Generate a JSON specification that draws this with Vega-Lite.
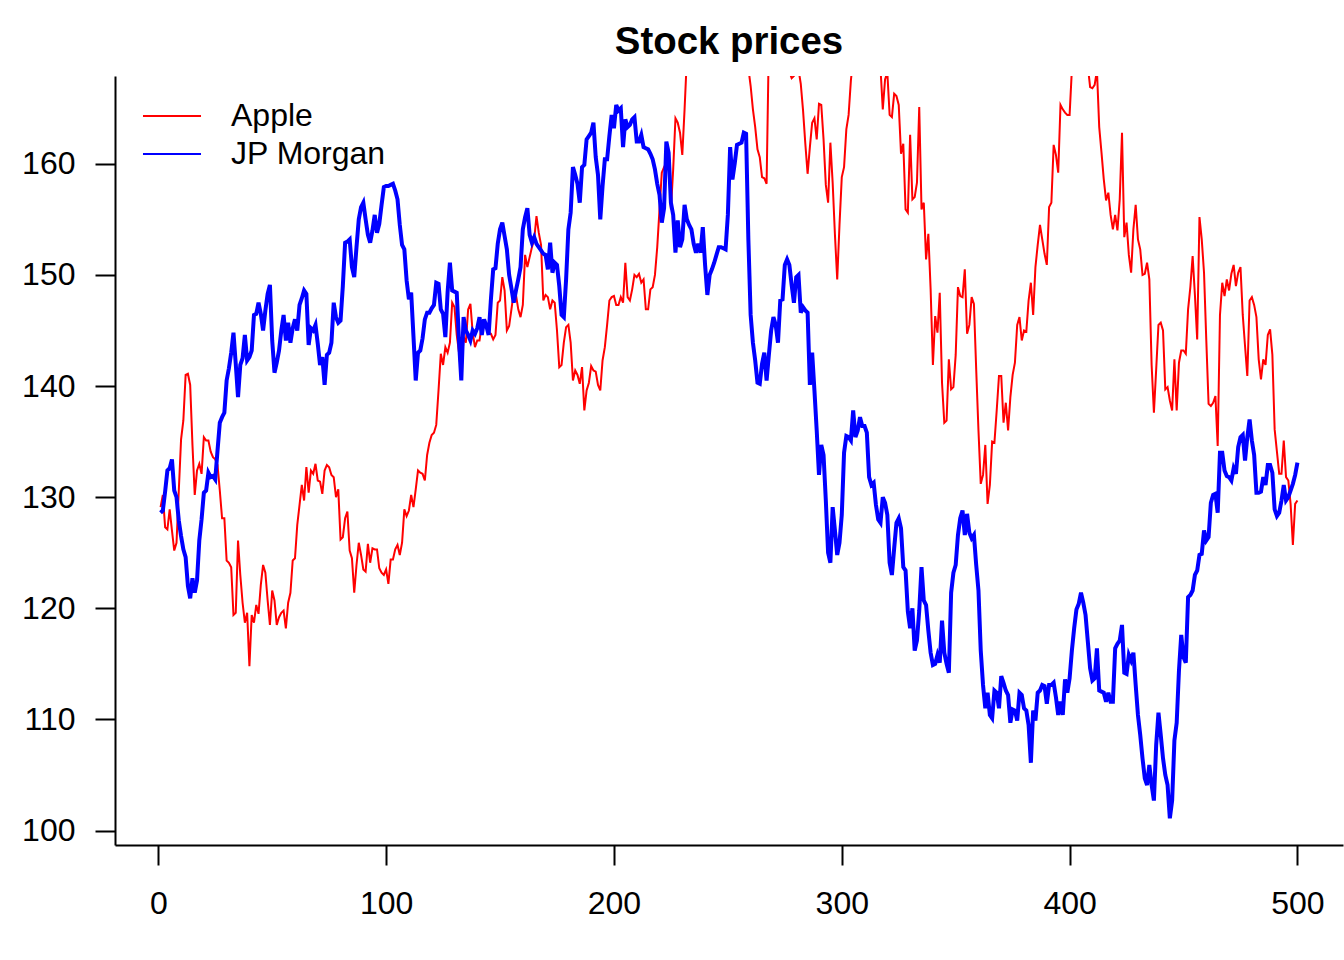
{
  "$schema": "https://vega.github.io/schema/vega-lite/v6.json",
  "description": "Stock prices: Apple and JP Morgan over 500 trading days",
  "width": 1228,
  "height": 769,
  "autosize": {"type": "none"},
  "padding": {"left": 115, "top": 76, "right": 1, "bottom": 115},
  "background": "white",
  "config": {"view": {"stroke": null}, "font": "Liberation Sans"},
  "title": {
    "text": "Stock prices",
    "font": "Liberation Sans",
    "fontSize": 38.4,
    "fontWeight": "bold",
    "color": "black",
    "anchor": "middle",
    "frame": "group",
    "baseline": "alphabetic",
    "offset": -16
  },
  "data": {"values": [
{"t":1,"Apple":129.1,"JP Morgan":128.6},{"t":2,"Apple":130.2,"JP Morgan":128.8},{"t":3,"Apple":127.3,"JP Morgan":130.5},{"t":4,"Apple":127.1,"JP Morgan":132.4},{"t":5,"Apple":128.9,"JP Morgan":132.6},
{"t":6,"Apple":127.0,"JP Morgan":133.4},{"t":7,"Apple":125.2,"JP Morgan":130.6},{"t":8,"Apple":125.9,"JP Morgan":130.0},{"t":9,"Apple":130.6,"JP Morgan":127.9},{"t":10,"Apple":135.2,"JP Morgan":126.5},
{"t":11,"Apple":136.9,"JP Morgan":125.3},{"t":12,"Apple":141.0,"JP Morgan":124.6},{"t":13,"Apple":141.1,"JP Morgan":122.0},{"t":14,"Apple":140.1,"JP Morgan":120.9},{"t":15,"Apple":134.7,"JP Morgan":122.7},
{"t":16,"Apple":130.2,"JP Morgan":121.4},{"t":17,"Apple":132.4,"JP Morgan":122.5},{"t":18,"Apple":133.0,"JP Morgan":126.1},{"t":19,"Apple":132.1,"JP Morgan":128.0},{"t":20,"Apple":135.4,"JP Morgan":130.4},
{"t":21,"Apple":135.1,"JP Morgan":130.6},{"t":22,"Apple":135.1,"JP Morgan":132.2},{"t":23,"Apple":134.1,"JP Morgan":131.8},{"t":24,"Apple":133.6,"JP Morgan":131.9},{"t":25,"Apple":133.4,"JP Morgan":131.6},
{"t":26,"Apple":132.9,"JP Morgan":134.2},{"t":27,"Apple":130.6,"JP Morgan":136.7},{"t":28,"Apple":128.1,"JP Morgan":137.2},{"t":29,"Apple":128.1,"JP Morgan":137.6},{"t":30,"Apple":124.3,"JP Morgan":140.5},
{"t":31,"Apple":124.1,"JP Morgan":141.6},{"t":32,"Apple":123.7,"JP Morgan":143.0},{"t":33,"Apple":119.4,"JP Morgan":144.8},{"t":34,"Apple":119.6,"JP Morgan":142.0},{"t":35,"Apple":126.1,"JP Morgan":139.0},
{"t":36,"Apple":123.0,"JP Morgan":141.9},{"t":37,"Apple":120.5,"JP Morgan":142.5},{"t":38,"Apple":118.7,"JP Morgan":144.6},{"t":39,"Apple":119.6,"JP Morgan":142.3},{"t":40,"Apple":114.8,"JP Morgan":142.6},
{"t":41,"Apple":119.4,"JP Morgan":143.2},{"t":42,"Apple":118.7,"JP Morgan":146.4},{"t":43,"Apple":120.3,"JP Morgan":146.5},{"t":44,"Apple":119.5,"JP Morgan":147.5},{"t":45,"Apple":122.1,"JP Morgan":146.5},
{"t":46,"Apple":123.9,"JP Morgan":145.0},{"t":47,"Apple":123.2,"JP Morgan":146.8},{"t":48,"Apple":120.7,"JP Morgan":148.3},{"t":49,"Apple":118.5,"JP Morgan":149.1},{"t":50,"Apple":121.6,"JP Morgan":144.1},
{"t":51,"Apple":120.7,"JP Morgan":141.2},{"t":52,"Apple":118.5,"JP Morgan":142.1},{"t":53,"Apple":119.2,"JP Morgan":143.2},{"t":54,"Apple":119.6,"JP Morgan":145.0},{"t":55,"Apple":119.8,"JP Morgan":146.4},
{"t":56,"Apple":118.2,"JP Morgan":144.1},{"t":57,"Apple":120.5,"JP Morgan":145.7},{"t":58,"Apple":121.4,"JP Morgan":143.9},{"t":59,"Apple":124.3,"JP Morgan":145.2},{"t":60,"Apple":124.5,"JP Morgan":146.0},
{"t":61,"Apple":127.5,"JP Morgan":145.0},{"t":62,"Apple":129.3,"JP Morgan":147.3},{"t":63,"Apple":131.1,"JP Morgan":147.9},{"t":64,"Apple":129.7,"JP Morgan":148.6},{"t":65,"Apple":132.7,"JP Morgan":148.3},
{"t":66,"Apple":130.4,"JP Morgan":143.7},{"t":67,"Apple":132.4,"JP Morgan":145.2},{"t":68,"Apple":132.1,"JP Morgan":145.0},{"t":69,"Apple":133.0,"JP Morgan":145.5},{"t":70,"Apple":131.5,"JP Morgan":143.8},
{"t":71,"Apple":131.4,"JP Morgan":141.9},{"t":72,"Apple":130.3,"JP Morgan":142.6},{"t":73,"Apple":132.4,"JP Morgan":140.1},{"t":74,"Apple":132.9,"JP Morgan":142.8},{"t":75,"Apple":132.7,"JP Morgan":143.0},
{"t":76,"Apple":132.0,"JP Morgan":143.9},{"t":77,"Apple":131.8,"JP Morgan":147.5},{"t":78,"Apple":130.0,"JP Morgan":146.2},{"t":79,"Apple":130.7,"JP Morgan":145.7},{"t":80,"Apple":126.2,"JP Morgan":145.9},
{"t":81,"Apple":126.4,"JP Morgan":149.0},{"t":82,"Apple":128.1,"JP Morgan":152.9},{"t":83,"Apple":128.7,"JP Morgan":153.0},{"t":84,"Apple":125.2,"JP Morgan":153.2},{"t":85,"Apple":124.5,"JP Morgan":150.7},
{"t":86,"Apple":121.4,"JP Morgan":149.8},{"t":87,"Apple":123.9,"JP Morgan":152.5},{"t":88,"Apple":125.9,"JP Morgan":155.0},{"t":89,"Apple":124.8,"JP Morgan":156.1},{"t":90,"Apple":123.5,"JP Morgan":156.5},
{"t":91,"Apple":123.3,"JP Morgan":155.0},{"t":92,"Apple":125.8,"JP Morgan":153.6},{"t":93,"Apple":124.1,"JP Morgan":152.9},{"t":94,"Apple":125.4,"JP Morgan":154.0},{"t":95,"Apple":125.3,"JP Morgan":155.4},
{"t":96,"Apple":125.3,"JP Morgan":153.8},{"t":97,"Apple":123.6,"JP Morgan":154.6},{"t":98,"Apple":123.2,"JP Morgan":156.3},{"t":99,"Apple":123.0,"JP Morgan":157.9},{"t":100,"Apple":123.5,"JP Morgan":158.0},
{"t":101,"Apple":122.2,"JP Morgan":158.0},{"t":102,"Apple":124.4,"JP Morgan":158.1},{"t":103,"Apple":124.4,"JP Morgan":158.2},{"t":104,"Apple":125.3,"JP Morgan":157.6},{"t":105,"Apple":125.7,"JP Morgan":156.8},
{"t":106,"Apple":124.8,"JP Morgan":154.5},{"t":107,"Apple":125.9,"JP Morgan":152.7},{"t":108,"Apple":128.9,"JP Morgan":152.3},{"t":109,"Apple":128.3,"JP Morgan":149.5},{"t":110,"Apple":128.8,"JP Morgan":147.8},
{"t":111,"Apple":130.2,"JP Morgan":148.4},{"t":112,"Apple":129.1,"JP Morgan":144.5},{"t":113,"Apple":130.7,"JP Morgan":140.5},{"t":114,"Apple":132.4,"JP Morgan":143.0},{"t":115,"Apple":132.2,"JP Morgan":143.2},
{"t":116,"Apple":132.1,"JP Morgan":144.3},{"t":117,"Apple":131.5,"JP Morgan":146.0},{"t":118,"Apple":133.8,"JP Morgan":146.6},{"t":119,"Apple":134.9,"JP Morgan":146.6},{"t":120,"Apple":135.6,"JP Morgan":147.0},
{"t":121,"Apple":135.8,"JP Morgan":147.3},{"t":122,"Apple":136.5,"JP Morgan":149.3},{"t":123,"Apple":139.6,"JP Morgan":149.2},{"t":124,"Apple":142.9,"JP Morgan":146.9},{"t":125,"Apple":141.9,"JP Morgan":146.5},
{"t":126,"Apple":143.5,"JP Morgan":144.4},{"t":127,"Apple":143.0,"JP Morgan":148.5},{"t":128,"Apple":143.9,"JP Morgan":151.1},{"t":129,"Apple":147.5,"JP Morgan":148.6},{"t":130,"Apple":147.1,"JP Morgan":148.5},
{"t":131,"Apple":144.6,"JP Morgan":148.4},{"t":132,"Apple":143.0,"JP Morgan":144.0},{"t":133,"Apple":140.9,"JP Morgan":140.5},{"t":134,"Apple":144.4,"JP Morgan":146.2},{"t":135,"Apple":143.9,"JP Morgan":145.0},
{"t":136,"Apple":146.9,"JP Morgan":144.6},{"t":137,"Apple":147.4,"JP Morgan":144.1},{"t":138,"Apple":144.8,"JP Morgan":145.0},{"t":139,"Apple":143.5,"JP Morgan":144.7},{"t":140,"Apple":144.1,"JP Morgan":145.2},
{"t":141,"Apple":144.1,"JP Morgan":146.2},{"t":142,"Apple":145.5,"JP Morgan":144.6},{"t":143,"Apple":145.4,"JP Morgan":146.0},{"t":144,"Apple":145.3,"JP Morgan":145.4},{"t":145,"Apple":144.8,"JP Morgan":144.6},
{"t":146,"Apple":144.7,"JP Morgan":147.8},{"t":147,"Apple":144.2,"JP Morgan":150.5},{"t":148,"Apple":144.6,"JP Morgan":150.6},{"t":149,"Apple":147.5,"JP Morgan":152.8},{"t":150,"Apple":147.7,"JP Morgan":154.1},
{"t":151,"Apple":149.8,"JP Morgan":154.7},{"t":152,"Apple":148.6,"JP Morgan":153.5},{"t":153,"Apple":145.0,"JP Morgan":152.3},{"t":154,"Apple":145.4,"JP Morgan":150.0},{"t":155,"Apple":146.9,"JP Morgan":148.8},
{"t":156,"Apple":148.4,"JP Morgan":147.5},{"t":157,"Apple":148.2,"JP Morgan":148.6},{"t":158,"Apple":146.9,"JP Morgan":149.6},{"t":159,"Apple":146.2,"JP Morgan":150.7},{"t":160,"Apple":147.3,"JP Morgan":154.1},
{"t":161,"Apple":151.8,"JP Morgan":155.2},{"t":162,"Apple":150.7,"JP Morgan":156.0},{"t":163,"Apple":151.6,"JP Morgan":153.6},{"t":164,"Apple":152.5,"JP Morgan":152.9},{"t":165,"Apple":153.2,"JP Morgan":153.4},
{"t":166,"Apple":155.3,"JP Morgan":152.8},{"t":167,"Apple":153.8,"JP Morgan":152.5},{"t":168,"Apple":152.7,"JP Morgan":152.2},{"t":169,"Apple":147.7,"JP Morgan":151.9},{"t":170,"Apple":148.2,"JP Morgan":151.8},
{"t":171,"Apple":148.0,"JP Morgan":150.5},{"t":172,"Apple":146.9,"JP Morgan":152.9},{"t":173,"Apple":147.7,"JP Morgan":150.2},{"t":174,"Apple":147.5,"JP Morgan":151.1},{"t":175,"Apple":145.0,"JP Morgan":150.9},
{"t":176,"Apple":141.7,"JP Morgan":149.0},{"t":177,"Apple":141.9,"JP Morgan":146.4},{"t":178,"Apple":143.9,"JP Morgan":146.2},{"t":179,"Apple":145.3,"JP Morgan":149.6},{"t":180,"Apple":145.5,"JP Morgan":154.1},
{"t":181,"Apple":143.9,"JP Morgan":155.6},{"t":182,"Apple":140.5,"JP Morgan":159.7},{"t":183,"Apple":141.4,"JP Morgan":159.0},{"t":184,"Apple":141.0,"JP Morgan":158.2},{"t":185,"Apple":140.2,"JP Morgan":156.5},
{"t":186,"Apple":141.7,"JP Morgan":159.7},{"t":187,"Apple":137.8,"JP Morgan":159.9},{"t":188,"Apple":139.6,"JP Morgan":162.2},{"t":189,"Apple":140.3,"JP Morgan":162.5},{"t":190,"Apple":141.8,"JP Morgan":162.8},
{"t":191,"Apple":141.4,"JP Morgan":163.7},{"t":192,"Apple":141.3,"JP Morgan":160.6},{"t":193,"Apple":140.1,"JP Morgan":159.0},{"t":194,"Apple":139.6,"JP Morgan":155.0},{"t":195,"Apple":142.3,"JP Morgan":158.0},
{"t":196,"Apple":143.5,"JP Morgan":160.4},{"t":197,"Apple":145.5,"JP Morgan":160.4},{"t":198,"Apple":147.7,"JP Morgan":162.5},{"t":199,"Apple":148.0,"JP Morgan":164.4},{"t":200,"Apple":148.1,"JP Morgan":163.2},
{"t":201,"Apple":147.3,"JP Morgan":165.3},{"t":202,"Apple":147.3,"JP Morgan":164.8},{"t":203,"Apple":148.0,"JP Morgan":165.0},{"t":204,"Apple":147.5,"JP Morgan":161.5},{"t":205,"Apple":151.1,"JP Morgan":164.0},
{"t":206,"Apple":148.0,"JP Morgan":163.3},{"t":207,"Apple":147.7,"JP Morgan":163.5},{"t":208,"Apple":148.7,"JP Morgan":164.0},{"t":209,"Apple":150.0,"JP Morgan":164.2},{"t":210,"Apple":149.8,"JP Morgan":162.0},
{"t":211,"Apple":150.1,"JP Morgan":162.0},{"t":212,"Apple":149.3,"JP Morgan":162.6},{"t":213,"Apple":149.6,"JP Morgan":161.5},{"t":214,"Apple":146.9,"JP Morgan":161.4},{"t":215,"Apple":146.9,"JP Morgan":161.3},
{"t":216,"Apple":148.7,"JP Morgan":160.9},{"t":217,"Apple":148.9,"JP Morgan":160.4},{"t":218,"Apple":150.0,"JP Morgan":159.5},{"t":219,"Apple":152.5,"JP Morgan":158.2},{"t":220,"Apple":155.9,"JP Morgan":157.2},
{"t":221,"Apple":159.2,"JP Morgan":154.7},{"t":222,"Apple":159.7,"JP Morgan":156.0},{"t":223,"Apple":160.1,"JP Morgan":162.0},{"t":224,"Apple":160.7,"JP Morgan":161.0},{"t":225,"Apple":155.9,"JP Morgan":156.5},
{"t":226,"Apple":159.5,"JP Morgan":155.4},{"t":227,"Apple":164.1,"JP Morgan":152.0},{"t":228,"Apple":163.7,"JP Morgan":154.9},{"t":229,"Apple":162.8,"JP Morgan":152.5},{"t":230,"Apple":160.8,"JP Morgan":153.2},
{"t":231,"Apple":164.9,"JP Morgan":156.3},{"t":232,"Apple":169.5,"JP Morgan":155.0},{"t":233,"Apple":171.0,"JP Morgan":154.5},{"t":234,"Apple":172.5,"JP Morgan":154.1},{"t":235,"Apple":171.8,"JP Morgan":152.8},
{"t":236,"Apple":173.5,"JP Morgan":152.0},{"t":237,"Apple":175.0,"JP Morgan":152.8},{"t":238,"Apple":174.2,"JP Morgan":152.0},{"t":239,"Apple":176.0,"JP Morgan":154.3},{"t":240,"Apple":177.5,"JP Morgan":150.9},
{"t":241,"Apple":176.8,"JP Morgan":148.2},{"t":242,"Apple":178.0,"JP Morgan":150.0},{"t":243,"Apple":177.2,"JP Morgan":150.5},{"t":244,"Apple":179.0,"JP Morgan":151.1},{"t":245,"Apple":178.1,"JP Morgan":151.8},
{"t":246,"Apple":176.5,"JP Morgan":152.5},{"t":247,"Apple":177.8,"JP Morgan":152.5},{"t":248,"Apple":176.0,"JP Morgan":152.4},{"t":249,"Apple":174.8,"JP Morgan":152.3},{"t":250,"Apple":175.5,"JP Morgan":155.4},
{"t":251,"Apple":173.8,"JP Morgan":161.5},{"t":252,"Apple":172.5,"JP Morgan":158.6},{"t":253,"Apple":173.2,"JP Morgan":160.0},{"t":254,"Apple":171.5,"JP Morgan":161.7},{"t":255,"Apple":170.2,"JP Morgan":161.8},
{"t":256,"Apple":171.0,"JP Morgan":161.9},{"t":257,"Apple":169.5,"JP Morgan":162.8},{"t":258,"Apple":168.8,"JP Morgan":162.7},{"t":259,"Apple":168.6,"JP Morgan":153.2},{"t":260,"Apple":167.0,"JP Morgan":146.4},
{"t":261,"Apple":164.9,"JP Morgan":143.9},{"t":262,"Apple":163.3,"JP Morgan":142.3},{"t":263,"Apple":161.3,"JP Morgan":140.3},{"t":264,"Apple":160.6,"JP Morgan":140.2},{"t":265,"Apple":158.8,"JP Morgan":142.0},
{"t":266,"Apple":158.7,"JP Morgan":143.0},{"t":267,"Apple":158.2,"JP Morgan":140.5},{"t":268,"Apple":171.0,"JP Morgan":142.8},{"t":269,"Apple":173.0,"JP Morgan":145.0},{"t":270,"Apple":172.0,"JP Morgan":146.2},
{"t":271,"Apple":174.5,"JP Morgan":145.5},{"t":272,"Apple":173.8,"JP Morgan":143.9},{"t":273,"Apple":172.5,"JP Morgan":147.7},{"t":274,"Apple":171.0,"JP Morgan":147.8},{"t":275,"Apple":170.3,"JP Morgan":150.9},
{"t":276,"Apple":169.2,"JP Morgan":151.4},{"t":277,"Apple":168.3,"JP Morgan":150.9},{"t":278,"Apple":167.7,"JP Morgan":149.1},{"t":279,"Apple":167.9,"JP Morgan":147.5},{"t":280,"Apple":168.4,"JP Morgan":149.8},
{"t":281,"Apple":168.5,"JP Morgan":150.0},{"t":282,"Apple":167.2,"JP Morgan":146.6},{"t":283,"Apple":164.8,"JP Morgan":147.1},{"t":284,"Apple":161.8,"JP Morgan":146.8},{"t":285,"Apple":159.1,"JP Morgan":146.6},
{"t":286,"Apple":161.5,"JP Morgan":140.1},{"t":287,"Apple":163.7,"JP Morgan":143.0},{"t":288,"Apple":164.1,"JP Morgan":139.6},{"t":289,"Apple":162.2,"JP Morgan":136.0},{"t":290,"Apple":165.4,"JP Morgan":132.0},
{"t":291,"Apple":165.3,"JP Morgan":134.7},{"t":292,"Apple":162.2,"JP Morgan":133.8},{"t":293,"Apple":158.1,"JP Morgan":129.7},{"t":294,"Apple":156.5,"JP Morgan":125.0},{"t":295,"Apple":161.9,"JP Morgan":124.1},
{"t":296,"Apple":158.3,"JP Morgan":129.1},{"t":297,"Apple":153.6,"JP Morgan":127.0},{"t":298,"Apple":149.6,"JP Morgan":124.8},{"t":299,"Apple":154.5,"JP Morgan":125.9},{"t":300,"Apple":158.8,"JP Morgan":128.4},
{"t":301,"Apple":159.7,"JP Morgan":134.0},{"t":302,"Apple":163.1,"JP Morgan":135.5},{"t":303,"Apple":164.4,"JP Morgan":135.4},{"t":304,"Apple":167.5,"JP Morgan":135.1},{"t":305,"Apple":169.5,"JP Morgan":137.8},
{"t":306,"Apple":171.0,"JP Morgan":135.4},{"t":307,"Apple":172.8,"JP Morgan":136.0},{"t":308,"Apple":172.0,"JP Morgan":137.2},{"t":309,"Apple":174.0,"JP Morgan":136.4},{"t":310,"Apple":175.2,"JP Morgan":136.4},
{"t":311,"Apple":174.1,"JP Morgan":135.8},{"t":312,"Apple":173.0,"JP Morgan":131.8},{"t":313,"Apple":171.8,"JP Morgan":131.1},{"t":314,"Apple":172.5,"JP Morgan":131.3},{"t":315,"Apple":170.6,"JP Morgan":129.3},
{"t":316,"Apple":169.4,"JP Morgan":128.0},{"t":317,"Apple":168.6,"JP Morgan":127.7},{"t":318,"Apple":164.9,"JP Morgan":130.0},{"t":319,"Apple":167.6,"JP Morgan":129.5},{"t":320,"Apple":168.2,"JP Morgan":128.4},
{"t":321,"Apple":164.4,"JP Morgan":124.1},{"t":322,"Apple":164.2,"JP Morgan":123.0},{"t":323,"Apple":166.3,"JP Morgan":125.4},{"t":324,"Apple":166.1,"JP Morgan":127.7},{"t":325,"Apple":165.3,"JP Morgan":128.1},
{"t":326,"Apple":160.9,"JP Morgan":127.2},{"t":327,"Apple":161.8,"JP Morgan":123.7},{"t":328,"Apple":155.9,"JP Morgan":123.4},{"t":329,"Apple":155.6,"JP Morgan":119.7},{"t":330,"Apple":162.6,"JP Morgan":118.2},
{"t":331,"Apple":156.8,"JP Morgan":120.0},{"t":332,"Apple":157.0,"JP Morgan":116.2},{"t":333,"Apple":158.3,"JP Morgan":117.1},{"t":334,"Apple":165.1,"JP Morgan":119.8},{"t":335,"Apple":155.9,"JP Morgan":123.7},
{"t":336,"Apple":156.5,"JP Morgan":120.7},{"t":337,"Apple":151.4,"JP Morgan":120.3},{"t":338,"Apple":153.7,"JP Morgan":118.0},{"t":339,"Apple":148.7,"JP Morgan":116.0},{"t":340,"Apple":141.9,"JP Morgan":114.9},
{"t":341,"Apple":146.3,"JP Morgan":115.0},{"t":342,"Apple":144.8,"JP Morgan":115.8},{"t":343,"Apple":148.4,"JP Morgan":115.1},{"t":344,"Apple":140.3,"JP Morgan":118.9},{"t":345,"Apple":136.7,"JP Morgan":116.0},
{"t":346,"Apple":136.9,"JP Morgan":115.0},{"t":347,"Apple":142.4,"JP Morgan":114.2},{"t":348,"Apple":139.7,"JP Morgan":121.4},{"t":349,"Apple":139.9,"JP Morgan":123.2},{"t":350,"Apple":142.8,"JP Morgan":123.9},
{"t":351,"Apple":148.9,"JP Morgan":126.6},{"t":352,"Apple":148.1,"JP Morgan":128.1},{"t":353,"Apple":148.0,"JP Morgan":128.8},{"t":354,"Apple":150.5,"JP Morgan":126.6},{"t":355,"Apple":144.7,"JP Morgan":128.5},
{"t":356,"Apple":145.5,"JP Morgan":126.8},{"t":357,"Apple":148.0,"JP Morgan":126.3},{"t":358,"Apple":147.4,"JP Morgan":126.6},{"t":359,"Apple":141.5,"JP Morgan":123.9},{"t":360,"Apple":136.0,"JP Morgan":121.6},
{"t":361,"Apple":131.2,"JP Morgan":116.2},{"t":362,"Apple":132.0,"JP Morgan":113.1},{"t":363,"Apple":134.7,"JP Morgan":111.0},{"t":364,"Apple":129.4,"JP Morgan":112.4},{"t":365,"Apple":131.1,"JP Morgan":110.4},
{"t":366,"Apple":135.0,"JP Morgan":110.1},{"t":367,"Apple":134.9,"JP Morgan":112.6},{"t":368,"Apple":137.8,"JP Morgan":112.4},{"t":369,"Apple":140.9,"JP Morgan":111.0},{"t":370,"Apple":140.9,"JP Morgan":113.9},
{"t":371,"Apple":136.7,"JP Morgan":113.3},{"t":372,"Apple":138.5,"JP Morgan":112.6},{"t":373,"Apple":136.0,"JP Morgan":112.2},{"t":374,"Apple":139.0,"JP Morgan":109.7},{"t":375,"Apple":141.0,"JP Morgan":110.9},
{"t":376,"Apple":142.1,"JP Morgan":110.8},{"t":377,"Apple":145.5,"JP Morgan":109.9},{"t":378,"Apple":146.2,"JP Morgan":112.4},{"t":379,"Apple":144.1,"JP Morgan":112.2},{"t":380,"Apple":145.0,"JP Morgan":111.0},
{"t":381,"Apple":144.9,"JP Morgan":110.8},{"t":382,"Apple":147.7,"JP Morgan":109.5},{"t":383,"Apple":149.3,"JP Morgan":106.1},{"t":384,"Apple":146.4,"JP Morgan":110.8},{"t":385,"Apple":150.7,"JP Morgan":109.9},
{"t":386,"Apple":152.7,"JP Morgan":112.4},{"t":387,"Apple":154.5,"JP Morgan":112.6},{"t":388,"Apple":153.2,"JP Morgan":113.1},{"t":389,"Apple":151.9,"JP Morgan":113.0},{"t":390,"Apple":150.9,"JP Morgan":111.4},
{"t":391,"Apple":156.1,"JP Morgan":113.1},{"t":392,"Apple":156.5,"JP Morgan":113.1},{"t":393,"Apple":161.7,"JP Morgan":113.3},{"t":394,"Apple":160.8,"JP Morgan":112.0},{"t":395,"Apple":159.2,"JP Morgan":110.4},
{"t":396,"Apple":165.3,"JP Morgan":111.6},{"t":397,"Apple":164.9,"JP Morgan":110.4},{"t":398,"Apple":164.6,"JP Morgan":113.6},{"t":399,"Apple":164.4,"JP Morgan":112.4},{"t":400,"Apple":164.4,"JP Morgan":113.7},
{"t":401,"Apple":168.5,"JP Morgan":116.2},{"t":402,"Apple":170.5,"JP Morgan":118.2},{"t":403,"Apple":171.8,"JP Morgan":119.9},{"t":404,"Apple":171.0,"JP Morgan":120.4},{"t":405,"Apple":172.6,"JP Morgan":121.4},
{"t":406,"Apple":171.2,"JP Morgan":120.5},{"t":407,"Apple":170.0,"JP Morgan":119.4},{"t":408,"Apple":168.8,"JP Morgan":117.0},{"t":409,"Apple":166.9,"JP Morgan":114.6},{"t":410,"Apple":166.8,"JP Morgan":113.5},
{"t":411,"Apple":167.1,"JP Morgan":113.7},{"t":412,"Apple":168.4,"JP Morgan":116.4},{"t":413,"Apple":163.3,"JP Morgan":112.6},{"t":414,"Apple":161.0,"JP Morgan":112.5},{"t":415,"Apple":158.6,"JP Morgan":112.4},
{"t":416,"Apple":156.7,"JP Morgan":111.6},{"t":417,"Apple":157.4,"JP Morgan":112.4},{"t":418,"Apple":155.4,"JP Morgan":111.6},{"t":419,"Apple":154.1,"JP Morgan":111.6},{"t":420,"Apple":155.4,"JP Morgan":116.4},
{"t":421,"Apple":154.0,"JP Morgan":116.8},{"t":422,"Apple":156.8,"JP Morgan":117.1},{"t":423,"Apple":162.8,"JP Morgan":118.5},{"t":424,"Apple":153.4,"JP Morgan":114.2},{"t":425,"Apple":154.7,"JP Morgan":114.1},
{"t":426,"Apple":151.8,"JP Morgan":115.8},{"t":427,"Apple":150.2,"JP Morgan":115.3},{"t":428,"Apple":154.1,"JP Morgan":116.0},{"t":429,"Apple":156.3,"JP Morgan":113.1},{"t":430,"Apple":153.2,"JP Morgan":110.4},
{"t":431,"Apple":152.3,"JP Morgan":108.6},{"t":432,"Apple":150.0,"JP Morgan":106.5},{"t":433,"Apple":150.1,"JP Morgan":104.7},{"t":434,"Apple":151.1,"JP Morgan":104.1},{"t":435,"Apple":149.6,"JP Morgan":105.9},
{"t":436,"Apple":141.9,"JP Morgan":104.1},{"t":437,"Apple":137.6,"JP Morgan":102.7},{"t":438,"Apple":141.5,"JP Morgan":107.7},{"t":439,"Apple":145.5,"JP Morgan":110.6},{"t":440,"Apple":145.7,"JP Morgan":108.6},
{"t":441,"Apple":145.0,"JP Morgan":106.5},{"t":442,"Apple":139.7,"JP Morgan":105.0},{"t":443,"Apple":139.9,"JP Morgan":104.1},{"t":444,"Apple":138.7,"JP Morgan":101.1},{"t":445,"Apple":137.8,"JP Morgan":102.7},
{"t":446,"Apple":142.4,"JP Morgan":108.1},{"t":447,"Apple":137.8,"JP Morgan":109.7},{"t":448,"Apple":142.1,"JP Morgan":114.4},{"t":449,"Apple":143.2,"JP Morgan":117.6},{"t":450,"Apple":143.2,"JP Morgan":115.6},
{"t":451,"Apple":142.9,"JP Morgan":115.1},{"t":452,"Apple":146.9,"JP Morgan":121.0},{"t":453,"Apple":148.9,"JP Morgan":121.2},{"t":454,"Apple":151.7,"JP Morgan":121.6},{"t":455,"Apple":148.2,"JP Morgan":123.0},
{"t":456,"Apple":144.2,"JP Morgan":123.4},{"t":457,"Apple":155.2,"JP Morgan":124.8},{"t":458,"Apple":153.2,"JP Morgan":124.9},{"t":459,"Apple":150.2,"JP Morgan":127.0},{"t":460,"Apple":144.1,"JP Morgan":126.1},
{"t":461,"Apple":138.4,"JP Morgan":126.4},{"t":462,"Apple":138.2,"JP Morgan":129.5},{"t":463,"Apple":138.5,"JP Morgan":130.2},{"t":464,"Apple":139.1,"JP Morgan":130.3},{"t":465,"Apple":134.6,"JP Morgan":128.6},
{"t":466,"Apple":146.4,"JP Morgan":134.0},{"t":467,"Apple":149.3,"JP Morgan":134.0},{"t":468,"Apple":148.1,"JP Morgan":132.4},{"t":469,"Apple":149.6,"JP Morgan":131.9},{"t":470,"Apple":148.6,"JP Morgan":131.8},
{"t":471,"Apple":150.1,"JP Morgan":131.5},{"t":472,"Apple":150.9,"JP Morgan":132.6},{"t":473,"Apple":149.0,"JP Morgan":132.1},{"t":474,"Apple":150.2,"JP Morgan":134.5},{"t":475,"Apple":150.7,"JP Morgan":135.4},
{"t":476,"Apple":146.4,"JP Morgan":135.6},{"t":477,"Apple":143.6,"JP Morgan":133.3},{"t":478,"Apple":140.9,"JP Morgan":135.4},{"t":479,"Apple":147.7,"JP Morgan":137.0},{"t":480,"Apple":148.0,"JP Morgan":135.1},
{"t":481,"Apple":147.3,"JP Morgan":133.8},{"t":482,"Apple":146.2,"JP Morgan":130.4},{"t":483,"Apple":142.4,"JP Morgan":130.4},{"t":484,"Apple":140.6,"JP Morgan":130.5},{"t":485,"Apple":142.4,"JP Morgan":131.8},
{"t":486,"Apple":141.9,"JP Morgan":131.1},{"t":487,"Apple":144.6,"JP Morgan":132.9},{"t":488,"Apple":145.1,"JP Morgan":132.9},{"t":489,"Apple":142.8,"JP Morgan":132.2},{"t":490,"Apple":136.1,"JP Morgan":128.9},
{"t":491,"Apple":134.1,"JP Morgan":128.3},{"t":492,"Apple":132.1,"JP Morgan":128.6},{"t":493,"Apple":132.1,"JP Morgan":129.7},{"t":494,"Apple":135.1,"JP Morgan":131.1},{"t":495,"Apple":131.8,"JP Morgan":129.7},
{"t":496,"Apple":131.5,"JP Morgan":130.0},{"t":497,"Apple":129.4,"JP Morgan":130.6},{"t":498,"Apple":125.7,"JP Morgan":131.2},{"t":499,"Apple":129.4,"JP Morgan":132.0},{"t":500,"Apple":129.7,"JP Morgan":133.1}
  ]},
  "transform": [{"fold": ["Apple", "JP Morgan"], "as": ["stock", "price"]}],
  "encoding": {
    "x": {
      "field": "t",
      "type": "quantitative",
      "scale": {"domain": [-19, 520], "nice": false, "zero": false},
      "axis": {
        "title": null,
        "values": [0, 100, 200, 300, 400, 500],
        "grid": false,
        "domainColor": "black",
        "domainWidth": 2,
        "tickColor": "black",
        "tickWidth": 2,
        "tickSize": 20,
        "labelFont": "Liberation Sans",
        "labelFontSize": 32,
        "labelColor": "black",
        "labelPadding": 23,
        "labelFlush": false,
        "labelOverlap": false
      }
    },
    "y": {
      "field": "price",
      "type": "quantitative",
      "scale": {"domain": [98.7, 167.9], "nice": false, "zero": false},
      "axis": {
        "title": null,
        "values": [100, 110, 120, 130, 140, 150, 160],
        "grid": false,
        "domainColor": "black",
        "domainWidth": 2,
        "tickColor": "black",
        "tickWidth": 2,
        "tickSize": 20,
        "labelFont": "Liberation Sans",
        "labelFontSize": 32,
        "labelColor": "black",
        "labelPadding": 20,
        "labelFlush": false,
        "labelOverlap": false
      }
    },
    "color": {
      "field": "stock",
      "type": "nominal",
      "scale": {"domain": ["Apple", "JP Morgan"], "range": ["#ff0000", "#0000ff"]},
      "legend": {
        "title": null,
        "orient": "none",
        "legendX": 41,
        "legendY": 24,
        "padding": 0,
        "symbolType": "M-3,0H3",
        "symbolSize": 374,
        "symbolStrokeWidth": 2,
        "labelFont": "Liberation Sans",
        "labelFontSize": 32,
        "labelColor": "black",
        "labelOffset": 43,
        "rowPadding": 6
      }
    }
  },
  "layer": [
    {
      "transform": [{"filter": "datum.stock === 'Apple'"}],
      "mark": {"type": "line", "clip": true, "strokeWidth": 2}
    },
    {
      "transform": [{"filter": "datum.stock === 'JP Morgan'"}],
      "mark": {"type": "line", "clip": true, "strokeWidth": 4}
    }
  ]
}
